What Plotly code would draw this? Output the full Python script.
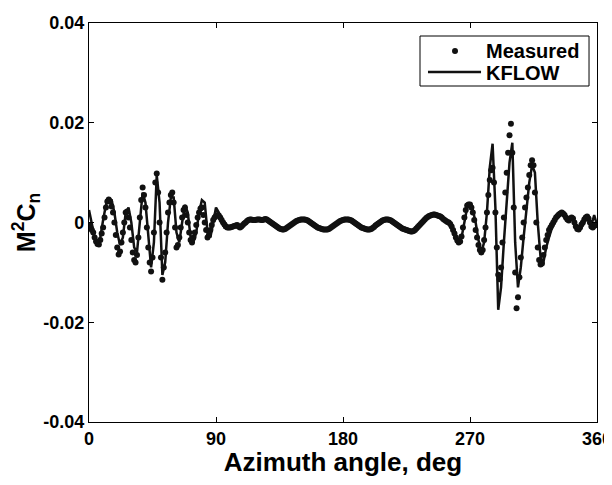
import plotly.graph_objects as go

# Measured data: one value per degree, 0..360
measured_angles = list(range(0, 361))
measured = [
    -0.0005, -0.001, -0.0015, -0.002, -0.003, -0.0038, -0.0043, -0.0044, -0.0035, -0.0022,  # 0-9
    -0.001, 0.001, 0.003, 0.0042, 0.0046, 0.0042, 0.0032, 0.002, 0.0, -0.0025,              # 10-19
    -0.005, -0.0064, -0.0058, -0.004, -0.002, 0.0, 0.002, 0.0022, 0.001, -0.001,            # 20-29
    -0.0035, -0.006, -0.0075, -0.008, -0.0065, -0.003, 0.001, 0.0045, 0.007, 0.0055,        # 30-39
    0.003, -0.001, -0.005, -0.008, -0.0098, -0.007, -0.002, 0.008, 0.0098, 0.006,           # 40-49
    0.0, -0.007, -0.0115, -0.009, -0.006, -0.002, 0.002, 0.004, 0.0055, 0.006,              # 50-59
    0.004, -0.001, -0.005, -0.0045, -0.003, -0.001, 0.001, 0.0025, 0.003, 0.0015,           # 60-69
    0.0, -0.002, -0.0035, -0.004, -0.003, -0.002, -0.0005, 0.001, 0.002, 0.0028,            # 70-79
    0.003, 0.0015, 0.0, -0.0015, -0.003, -0.0025, -0.0015, -0.0005, 0.0005, 0.001,          # 80-89
    0.0013, 0.0015, 0.0014, 0.001, 0.0005, 0.0, -0.0004, -0.0008, -0.001, -0.001,           # 90-99
    -0.001, -0.0009, -0.0008, -0.0007, -0.0006, -0.0005, -0.0008, -0.001, -0.0008, -0.0005, # 100-109
    -0.0002, 0.0, 0.0003, 0.0005, 0.0006, 0.0006, 0.0005, 0.0005, 0.0005, 0.0006,           # 110-119
    0.0006, 0.0006, 0.0005, 0.0005, 0.0006, 0.0007, 0.0006, 0.0004, 0.0002, 0.0,            # 120-129
    -0.0002, -0.0004, -0.0006, -0.0008, -0.001, -0.0012, -0.0013, -0.0014, -0.0014, -0.0013,# 130-139
    -0.0011, -0.0009, -0.0007, -0.0005, -0.0003, -0.0001, 0.0001, 0.0003, 0.0004, 0.0005,   # 140-149
    0.0006, 0.0006, 0.0006, 0.0006, 0.0005, 0.0004, 0.0002, 0.0, -0.0002, -0.0004,          # 150-159
    -0.0006, -0.0008, -0.001, -0.0011, -0.0012, -0.0013, -0.0014, -0.0014, -0.0014, -0.0014,# 160-169
    -0.0013, -0.0011, -0.0009, -0.0007, -0.0005, -0.0003, -0.0001, 0.0001, 0.0003, 0.0004,  # 170-179
    0.0005, 0.0006, 0.0006, 0.0006, 0.0006, 0.0005, 0.0004, 0.0002, 0.0, -0.0002,           # 180-189
    -0.0004, -0.0006, -0.0008, -0.001, -0.0011, -0.0012, -0.0013, -0.0014, -0.0014, -0.0014,# 190-199
    -0.0013, -0.0011, -0.0009, -0.0006, -0.0004, -0.0002, 0.0, 0.0002, 0.0004, 0.0005,      # 200-209
    0.0006, 0.0006, 0.0006, 0.0005, 0.0004, 0.0002, 0.0, -0.0002, -0.0004, -0.0006,         # 210-219
    -0.0008, -0.001, -0.0012, -0.0013, -0.0014, -0.0015, -0.0016, -0.0017, -0.0018, -0.0018,# 220-229
    -0.0017, -0.0015, -0.0012, -0.0009, -0.0006, -0.0003, 0.0, 0.0003, 0.0006, 0.0009,      # 230-239
    0.0011, 0.0013, 0.0014, 0.0015, 0.0016, 0.0016, 0.0015, 0.0014, 0.0013, 0.0012,         # 240-249
    0.001, 0.0007, 0.0005, 0.0003, 0.0001, 0.0, -0.0003, -0.0008, -0.0015, -0.0022,         # 250-259
    -0.003, -0.0036, -0.004, -0.0038, -0.0028, -0.001, 0.001, 0.0025, 0.0034, 0.0036,       # 260-269
    0.0036, 0.003, 0.002, 0.0005, -0.0015, -0.003, -0.0045, -0.0055, -0.006, -0.0055,       # 270-279
    -0.0035, -0.001, 0.002, 0.0055, 0.0085, 0.0105, 0.011, 0.008, 0.002, -0.005,            # 280-289
    -0.0105, -0.0114, -0.009, -0.004, 0.001, 0.006, 0.01, 0.014, 0.0175, 0.0198,            # 290-299
    0.014, 0.003, -0.01, -0.0172, -0.015, -0.011, -0.007, -0.003, 0.0, 0.003,               # 300-309
    0.005, 0.007, 0.0095, 0.0115, 0.0125, 0.0115, 0.006, 0.0, -0.005, -0.0075,              # 310-319
    -0.0084, -0.0082, -0.0065, -0.005, -0.0035, -0.0025, -0.0015, -0.001, -0.0005, 0.0,     # 320-329
    0.0005, 0.001, 0.0013, 0.0016, 0.0018, 0.002, 0.0018, 0.0015, 0.001, 0.0006,            # 330-339
    0.0004, 0.0008, 0.001, 0.0008, 0.0, -0.0008, -0.0013, -0.0014, -0.001, -0.0004,         # 340-349
    0.0, 0.0006, 0.001, 0.0012, 0.0008, 0.0, -0.0008, -0.001, -0.0007, -0.0005,             # 350-359
    -0.0005,                                                                                # 360
]

# KFLOW prediction: one value every 2 degrees, 0..360
kflow_angles = list(range(0, 361, 2))
kflow = [
    0.0025, 0.0, -0.003, -0.004, -0.003, 0.0005, 0.0035, 0.0048, 0.0045, 0.002,           # 0-18
    -0.002, -0.0045, -0.003, 0.002, 0.003, 0.0, -0.005, -0.006, 0.0, 0.006,               # 20-38
    0.004, -0.003, -0.009, -0.004, 0.0095, 0.004, -0.0105, -0.008, 0.0, 0.005,            # 40-58
    0.005, -0.002, -0.004, 0.0, 0.0035, 0.002, -0.003, -0.004, -0.002, 0.002,             # 60-78
    0.0045, 0.004, -0.002, -0.003, 0.0, 0.003, 0.002, 0.0, -0.001, -0.0012,               # 80-98
    -0.001, -0.0008, -0.0007, -0.0006, -0.0008, -0.0004, 0.0, 0.0004, 0.0006, 0.0006,     # 100-118
    0.0006, 0.0006, 0.0006, 0.0007, 0.0004, 0.0, -0.0004, -0.0009, -0.0013, -0.0014,      # 120-138
    -0.0011, -0.0007, -0.0003, 0.0001, 0.0004, 0.0006, 0.0006, 0.0005, 0.0002, -0.0002,   # 140-158
    -0.0006, -0.001, -0.0012, -0.0014, -0.0014, -0.0013, -0.0009, -0.0005, -0.0001, 0.0003, # 160-178
    0.0005, 0.0006, 0.0006, 0.0004, 0.0, -0.0004, -0.0008, -0.0011, -0.0013, -0.0014,     # 180-198
    -0.0013, -0.0009, -0.0004, 0.0, 0.0004, 0.0006, 0.0006, 0.0004, 0.0, -0.0004,         # 200-218
    -0.0008, -0.0012, -0.0014, -0.0016, -0.0018, -0.0017, -0.0012, -0.0006, 0.0, 0.0006,  # 220-238
    0.0011, 0.0014, 0.0016, 0.0015, 0.0013, 0.001, 0.0005, 0.0001, -0.0003, -0.0015,      # 240-258
    -0.003, -0.004, -0.003, 0.0, 0.003, 0.0035, 0.0025, 0.0, -0.0035, -0.006,             # 260-278
    -0.004, 0.002, 0.011, 0.0158, 0.003, -0.0175, -0.013, -0.004, 0.005, 0.012,           # 280-298
    0.016, -0.004, -0.013, -0.009, -0.003, 0.003, 0.008, 0.0115, 0.01, 0.0,               # 300-318
    -0.007, -0.008, -0.005, -0.003, -0.0012, 0.0, 0.0012, 0.0018, 0.0018, 0.001,          # 320-338
    0.0006, 0.001, 0.0, -0.0012, -0.001, 0.0, 0.0012, 0.0008, -0.0006, 0.0015,            # 340-358
    -0.0005,                                                                              # 360
]

x_ticks = [0, 90, 180, 270, 360]
y_ticks = [-0.04, -0.02, 0, 0.02, 0.04]
y_tick_labels = ["-0.04", "-0.02", "0", "0.02", "0.04"]
legend_names = ["Measured", "KFLOW"]

font_family = "Liberation Sans, Arial, sans-serif"
ink = "#111111"

fig = go.Figure()
fig.add_trace(go.Scatter(
    x=measured_angles, y=measured, mode="markers", name=legend_names[0],
    marker=dict(color=ink, size=6), showlegend=False,
))
fig.add_trace(go.Scatter(
    x=kflow_angles, y=kflow, mode="lines", name=legend_names[1],
    line=dict(color=ink, width=2.5), showlegend=False,
))

# Legend box drawn in plot-area (paper) coordinates
fig.add_shape(type="rect", xref="paper", yref="paper",
              x0=0.6516, x1=0.9843, y0=0.8421, y1=0.9674,
              line=dict(color="black", width=1), fillcolor="white", layer="above")
fig.add_shape(type="circle", xref="paper", yref="paper",
              x0=0.7146, x1=0.7264, y0=0.9223, y1=0.9373,
              line=dict(color=ink, width=0), fillcolor=ink, layer="above")
fig.add_shape(type="line", xref="paper", yref="paper",
              x0=0.6673, x1=0.7717, y0=0.8772, y1=0.8772,
              line=dict(color=ink, width=2.5), layer="above")
for name, ypos in zip(legend_names, [0.9298, 0.8759]):
    fig.add_annotation(text=name, xref="paper", yref="paper", x=0.7776, y=ypos,
                       xanchor="left", yanchor="middle", showarrow=False,
                       font=dict(family=font_family, size=20, color="black", weight="bold"))

axis_common = dict(
    showline=True, linecolor="black", linewidth=1.2, mirror="ticks",
    ticks="inside", ticklen=5, tickcolor="black", showgrid=False, zeroline=False,
    automargin=False, ticklabeloverflow="allow",
    tickfont=dict(family=font_family, size=18, color="black", weight="bold"),
)

# The page adds an 8px body margin; height is kept so the page does not scroll.
fig.update_layout(
    width=604, height=469,
    margin=dict(l=81, r=15, t=15, b=55),
    paper_bgcolor="white", plot_bgcolor="white",
    showlegend=False,
    xaxis=dict(
        range=[0, 360], tickvals=x_ticks, ticktext=[str(v) for v in x_ticks],
        title=dict(text="Azimuth angle, deg", standoff=3,
                   font=dict(family=font_family, size=26, color="black", weight="bold")),
        **axis_common,
    ),
    yaxis=dict(
        range=[-0.04, 0.04], tickvals=y_ticks, ticktext=y_tick_labels,
        title=dict(text="M<sup>2</sup>C<sub>n</sub>", standoff=10,
                   font=dict(family=font_family, size=25, color="black", weight="bold")),
        **axis_common,
    ),
)

fig.write_html("out.html")
